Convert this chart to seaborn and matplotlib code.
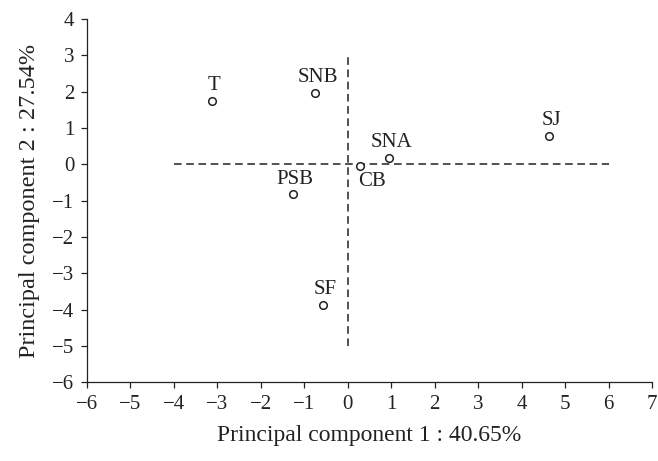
import matplotlib
matplotlib.use("Agg")
import matplotlib.pyplot as plt
import seaborn as sns
import pandas as pd

labels = ["T", "SNB", "SNA", "CB", "PSB", "SF", "SJ"]
pc1 = [-3.13, -0.75, 0.95, 0.28, -1.27, -0.58, 4.62]
pc2 = [1.75, 1.96, 0.17, -0.06, -0.83, -3.88, 0.77]

df = pd.DataFrame({"label": labels, "pc1": pc1, "pc2": pc2})

sns.set_theme(style="ticks")
plt.rcParams["font.family"] = ["Liberation Serif", "DejaVu Serif"]

fig = plt.figure(figsize=(6.58, 4.61), dpi=100)
ax = fig.add_axes([0.132, 0.171, 0.859, 0.788])

ax.plot([-4, 6], [0, 0], linestyle=(0, (5, 3)), color="#222222", lw=1.1, zorder=1)
ax.plot([0, 0], [-5, 3], linestyle=(0, (5, 3)), color="#222222", lw=1.1, zorder=1)

sns.scatterplot(data=df, x="pc1", y="pc2", ax=ax, marker="o", s=30,
                facecolor="white", edgecolor="#222222", linewidth=1.1, zorder=3,
                legend=False)

for lab, x, y in zip(labels, pc1, pc2):
    if lab == "CB":
        ax.annotate(lab, (x, y), xytext=(9, -11), textcoords="offset points",
                    ha="center", va="center", fontsize=15, color="#222222")
    else:
        ax.annotate(lab, (x, y), xytext=(2, 11), textcoords="offset points",
                    ha="center", va="center", fontsize=15, color="#222222")

ax.set_xlim(-6, 7)
ax.set_ylim(-6, 4)
ax.set_xticks(range(-6, 8))
ax.set_yticks(range(-6, 5))
ax.set_xticklabels([str(v).replace("-", "\u2212") for v in range(-6, 8)])
ax.set_yticklabels([str(v).replace("-", "\u2212") for v in range(-6, 5)])
ax.tick_params(axis="both", labelsize=15, colors="#222222", length=4, width=0.9,
               direction="out", pad=5)
for side in ["top", "right"]:
    ax.spines[side].set_visible(False)
for side in ["left", "bottom"]:
    ax.spines[side].set_color("#222222")
    ax.spines[side].set_linewidth(0.9)

ax.set_xlabel("Principal component 1 : 40.65%", fontsize=17, color="#222222", labelpad=8)
ax.set_ylabel("Principal component 2 : 27.54%", fontsize=17.5, color="#222222", labelpad=9)

fig.savefig("out.png", dpi=100)
